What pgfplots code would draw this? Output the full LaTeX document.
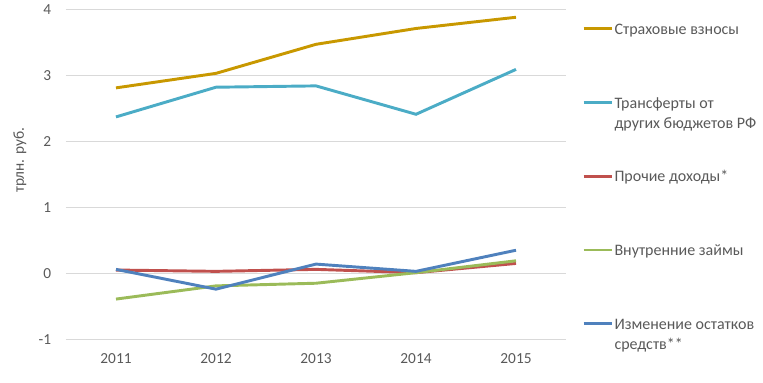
\documentclass[border=0pt]{standalone}
\usepackage{pgfplots}
\pgfplotsset{compat=1.18}
\usepackage{fontspec}
\setmainfont{Carlito}
\definecolor{cOr}{RGB}{200,152,0}
\definecolor{cCy}{RGB}{75,172,198}
\definecolor{cRd}{RGB}{192,80,77}
\definecolor{cGr}{RGB}{155,187,89}
\definecolor{cBl}{RGB}{79,129,189}
\definecolor{cTx}{RGB}{89,89,89}
\definecolor{cGd}{RGB}{217,217,217}
\begin{document}
\begin{tikzpicture}
\useasboundingbox (-49.5pt,-32pt) rectangle (522.75pt,254.5pt);
\begin{axis}[
  at={(0,0)}, anchor=south west,
  scale only axis, width=375pt, height=247.5pt,
  xmin=2010.5, xmax=2015.5, ymin=-1, ymax=4,
  xtick={2011,2012,2013,2014,2015},
  ytick={-1,0,1,2,3,4},
  xticklabel style={/pgf/number format/1000 sep={}, anchor=base, inner sep=0pt, yshift=-18pt},
  yticklabel style={anchor=east, inner sep=0pt, xshift=-11pt},
  /pgf/number format/assume math mode=true,
  ticklabel style={font=\fontsize{11.5}{14}\selectfont, text=cTx},
  axis line style={draw=none},
  major tick length=0pt,
  ymajorgrids, grid style={cGd, line width=0.75pt},
  every axis y label/.style={at={(axis description cs:-0.092,0.543)}, rotate=90, anchor=center, font=\fontsize{11.5}{14}\selectfont, text=cTx},
  ylabel={трлн. руб.},
  legend style={draw=none, fill=none, at={(axis description cs:1.024,1.152)}, anchor=north west,
    row sep=0pt, column sep=0pt,
    nodes={font=\fontsize{12}{15}\selectfont, text=cTx, inner sep=1pt, text depth=0pt, text height=53.3pt, anchor=base west}},
  legend cell align=left,
  legend image code/.code={\draw[#1] (0pt,0.9ex) -- (21pt,0.9ex);},
  every axis plot/.append style={line width=2.2pt},
]
\addplot[cOr] coordinates {(2011,2.81) (2012,3.03) (2013,3.47) (2014,3.71) (2015,3.88)};
\addlegendentry{Страховые взносы}
\addplot[cCy] coordinates {(2011,2.37) (2012,2.82) (2013,2.84) (2014,2.41) (2015,3.09)};
\addlegendentry{\begin{tabular}[t]{@{}l@{}}Трансферты от\\других бюджетов РФ\end{tabular}}
\addplot[cRd] coordinates {(2011,0.05) (2012,0.03) (2013,0.06) (2014,0.01) (2015,0.15)};
\addlegendentry{Прочие доходы*}
\addplot[cGr] coordinates {(2011,-0.39) (2012,-0.19) (2013,-0.15) (2014,0.01) (2015,0.19)};
\addlegendentry{Внутренние займы}
\addplot[cBl] coordinates {(2011,0.06) (2012,-0.24) (2013,0.14) (2014,0.03) (2015,0.35)};
\addlegendentry{\begin{tabular}[t]{@{}l@{}}Изменение остатков\\средств**\end{tabular}}
\end{axis}
\end{tikzpicture}
\end{document}
